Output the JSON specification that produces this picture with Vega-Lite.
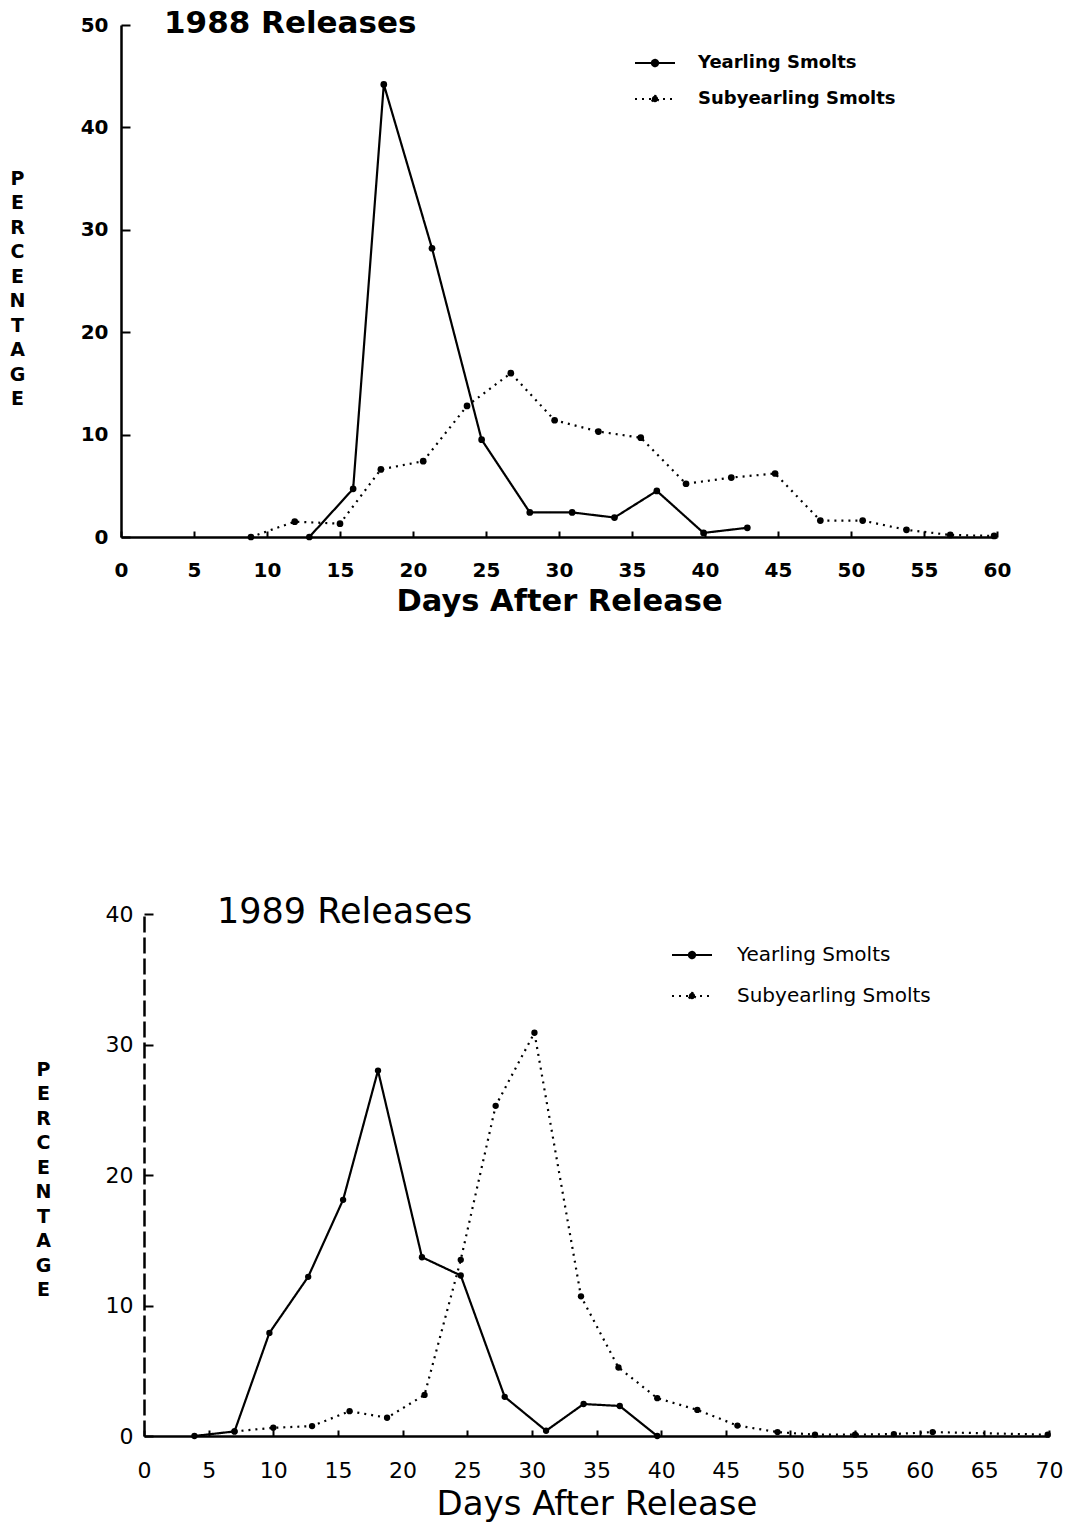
{
  "$schema": "https://vega.github.io/schema/vega-lite/v6.json",
  "background": "white",
  "padding": {"left": 9, "top": 8, "right": 5, "bottom": 5},
  "config": {
    "view": {"stroke": null},
    "axis": {
      "domainColor": "black",
      "domainWidth": 2.5,
      "tickColor": "black",
      "tickWidth": 2,
      "labelColor": "black",
      "titleColor": "black",
      "grid": false
    }
  },
  "datasets": {
    "release1988": [
      {"series": "Yearling Smolts", "day": 12.9, "pct": 0},
      {"series": "Yearling Smolts", "day": 15.9, "pct": 4.7},
      {"series": "Yearling Smolts", "day": 18.0, "pct": 44.2},
      {"series": "Yearling Smolts", "day": 21.3, "pct": 28.2},
      {"series": "Yearling Smolts", "day": 24.7, "pct": 9.5},
      {"series": "Yearling Smolts", "day": 28.0, "pct": 2.4},
      {"series": "Yearling Smolts", "day": 30.9, "pct": 2.4},
      {"series": "Yearling Smolts", "day": 33.8, "pct": 1.9},
      {"series": "Yearling Smolts", "day": 36.7, "pct": 4.5},
      {"series": "Yearling Smolts", "day": 39.9, "pct": 0.4},
      {"series": "Yearling Smolts", "day": 42.9, "pct": 0.9},
      {"series": "Subyearling Smolts", "day": 8.9, "pct": 0},
      {"series": "Subyearling Smolts", "day": 11.9, "pct": 1.5},
      {"series": "Subyearling Smolts", "day": 15.0, "pct": 1.3},
      {"series": "Subyearling Smolts", "day": 17.8, "pct": 6.6},
      {"series": "Subyearling Smolts", "day": 20.7, "pct": 7.4},
      {"series": "Subyearling Smolts", "day": 23.7, "pct": 12.8},
      {"series": "Subyearling Smolts", "day": 26.7, "pct": 16.0},
      {"series": "Subyearling Smolts", "day": 29.7, "pct": 11.4},
      {"series": "Subyearling Smolts", "day": 32.7, "pct": 10.3},
      {"series": "Subyearling Smolts", "day": 35.6, "pct": 9.7},
      {"series": "Subyearling Smolts", "day": 38.7, "pct": 5.2},
      {"series": "Subyearling Smolts", "day": 41.8, "pct": 5.8},
      {"series": "Subyearling Smolts", "day": 44.8, "pct": 6.2},
      {"series": "Subyearling Smolts", "day": 47.9, "pct": 1.6},
      {"series": "Subyearling Smolts", "day": 50.8, "pct": 1.6},
      {"series": "Subyearling Smolts", "day": 53.8, "pct": 0.7},
      {"series": "Subyearling Smolts", "day": 56.8, "pct": 0.2},
      {"series": "Subyearling Smolts", "day": 59.8, "pct": 0.1}
    ],
    "release1989": [
      {"series": "Yearling Smolts", "day": 3.9, "pct": 0},
      {"series": "Yearling Smolts", "day": 7.0, "pct": 0.35},
      {"series": "Yearling Smolts", "day": 9.7, "pct": 7.9},
      {"series": "Yearling Smolts", "day": 12.7, "pct": 12.2},
      {"series": "Yearling Smolts", "day": 15.4, "pct": 18.1},
      {"series": "Yearling Smolts", "day": 18.1, "pct": 28.0},
      {"series": "Yearling Smolts", "day": 21.5, "pct": 13.7},
      {"series": "Yearling Smolts", "day": 24.5, "pct": 12.3},
      {"series": "Yearling Smolts", "day": 27.9, "pct": 3.0},
      {"series": "Yearling Smolts", "day": 31.1, "pct": 0.4},
      {"series": "Yearling Smolts", "day": 34.0, "pct": 2.45},
      {"series": "Yearling Smolts", "day": 36.8, "pct": 2.3},
      {"series": "Yearling Smolts", "day": 39.7, "pct": 0},
      {"series": "Subyearling Smolts", "day": 7.0, "pct": 0.35},
      {"series": "Subyearling Smolts", "day": 10.0, "pct": 0.63},
      {"series": "Subyearling Smolts", "day": 13.0, "pct": 0.76},
      {"series": "Subyearling Smolts", "day": 15.9, "pct": 1.9},
      {"series": "Subyearling Smolts", "day": 18.8, "pct": 1.4},
      {"series": "Subyearling Smolts", "day": 21.7, "pct": 3.15},
      {"series": "Subyearling Smolts", "day": 24.5, "pct": 13.5},
      {"series": "Subyearling Smolts", "day": 27.2, "pct": 25.3},
      {"series": "Subyearling Smolts", "day": 30.2, "pct": 30.9},
      {"series": "Subyearling Smolts", "day": 33.8, "pct": 10.7},
      {"series": "Subyearling Smolts", "day": 36.7, "pct": 5.25},
      {"series": "Subyearling Smolts", "day": 39.7, "pct": 2.9},
      {"series": "Subyearling Smolts", "day": 42.8, "pct": 2.0},
      {"series": "Subyearling Smolts", "day": 45.9, "pct": 0.8},
      {"series": "Subyearling Smolts", "day": 49.0, "pct": 0.3},
      {"series": "Subyearling Smolts", "day": 51.9, "pct": 0.1},
      {"series": "Subyearling Smolts", "day": 55.0, "pct": 0.1},
      {"series": "Subyearling Smolts", "day": 58.0, "pct": 0.15},
      {"series": "Subyearling Smolts", "day": 61.0, "pct": 0.3},
      {"series": "Subyearling Smolts", "day": 69.9, "pct": 0.1}
    ]
  },
  "spacing": 278,
  "resolve": {
    "scale": {"x": "independent", "y": "independent", "strokeDash": "independent"},
    "legend": {"strokeDash": "independent"}
  },
  "vconcat": [
    {
      "width": 876,
      "height": 512,
      "data": {"name": "release1988"},
      "title": {
        "text": "1988 Releases",
        "anchor": "start",
        "frame": "group",
        "dx": 43,
        "offset": -25,
        "font": "DejaVu Sans",
        "fontSize": 31,
        "fontWeight": "bold",
        "color": "black"
      },
      "encoding": {
        "x": {
          "field": "day",
          "type": "quantitative",
          "scale": {"domain": [0, 60], "nice": false},
          "axis": {
            "title": "Days After Release",
            "values": [0, 5, 10, 15, 20, 25, 30, 35, 40, 45, 50, 55, 60],
            "labelFlush": false,
            "tickSize": -6,
            "labelPadding": 29,
            "labelFont": "DejaVu Sans",
            "labelFontWeight": "bold",
            "labelFontSize": 20,
            "titleFont": "DejaVu Sans",
            "titleFontWeight": "bold",
            "titleFontSize": 30.5,
            "titlePadding": 6
          }
        },
        "y": {
          "field": "pct",
          "type": "quantitative",
          "scale": {"domain": [0, 50], "nice": false},
          "axis": {
            "title": ["P", "E", "R", "C", "E", "N", "T", "A", "G", "E"],
            "titleAngle": 0,
            "titleAlign": "center",
            "titleBaseline": "middle",
            "titleLineHeight": 24.5,
            "titleFont": "DejaVu Sans",
            "titleFontWeight": "bold",
            "titleFontSize": 19,
            "titleX": -104,
            "titleY": 153,
            "values": [0, 10, 20, 30, 40, 50],
            "tickSize": -9,
            "labelPadding": 22,
            "labelFont": "DejaVu Sans",
            "labelFontWeight": "bold",
            "labelFontSize": 20
          }
        }
      },
      "layer": [
        {
          "mark": {"type": "line", "color": "black", "strokeWidth": 2.2},
          "encoding": {
            "strokeDash": {
              "field": "series",
              "type": "nominal",
              "scale": {"domain": ["Yearling Smolts", "Subyearling Smolts"], "range": [[1, 0], [2, 5]]},
              "legend": {
                "title": null,
                "orient": "none",
                "legendX": 513,
                "legendY": 17,
                "symbolType": "M-1,0L1,0M0.16,0A0.16,0.16,0,1,1,-0.16,0A0.16,0.16,0,1,1,0.16,0",
                "symbolSize": 1600,
                "symbolStrokeWidth": 2,
                "symbolStrokeColor": "black",
                "symbolFillColor": "black",
                "labelFont": "DejaVu Sans",
                "labelFontWeight": "bold",
                "labelFontSize": 18,
                "labelColor": "black",
                "labelLimit": 400,
                "labelOffset": 22,
                "rowPadding": 6
              }
            }
          }
        },
        {
          "mark": {"type": "point", "filled": true, "color": "black", "size": 45, "opacity": 1}
        }
      ]
    },
    {
      "width": 928,
      "height": 522,
      "data": {"name": "release1989"},
      "title": {
        "text": "1989 Releases",
        "anchor": "start",
        "frame": "group",
        "dx": 96,
        "offset": -27,
        "font": "DejaVu Sans",
        "fontSize": 35,
        "fontWeight": "normal",
        "color": "black"
      },
      "encoding": {
        "x": {
          "field": "day",
          "type": "quantitative",
          "scale": {"domain": [0, 70], "nice": false, "range": [23, 928]},
          "axis": {
            "title": "Days After Release",
            "values": [0, 5, 10, 15, 20, 25, 30, 35, 40, 45, 50, 55, 60, 65, 70],
            "labelFlush": false,
            "tickSize": -6,
            "labelPadding": 30,
            "labelFont": "DejaVu Sans",
            "labelFontSize": 22,
            "titleFont": "DejaVu Sans",
            "titleFontWeight": "normal",
            "titleFontSize": 34,
            "titlePadding": 6
          }
        },
        "y": {
          "field": "pct",
          "type": "quantitative",
          "scale": {"domain": [0, 40], "nice": false},
          "axis": {
            "title": ["P", "E", "R", "C", "E", "N", "T", "A", "G", "E"],
            "titleAngle": 0,
            "titleAlign": "center",
            "titleBaseline": "middle",
            "titleLineHeight": 24.5,
            "titleFont": "DejaVu Sans",
            "titleFontWeight": "bold",
            "titleFontSize": 19,
            "titleX": -101,
            "titleY": 155,
            "offset": -23,
            "values": [0, 10, 20, 30, 40],
            "domainDash": [16, 5],
            "tickSize": -9,
            "labelPadding": 20,
            "labelFont": "DejaVu Sans",
            "labelFontSize": 22
          }
        }
      },
      "layer": [
        {
          "mark": {"type": "line", "color": "black", "strokeWidth": 2.2},
          "encoding": {
            "strokeDash": {
              "field": "series",
              "type": "nominal",
              "scale": {"domain": ["Yearling Smolts", "Subyearling Smolts"], "range": [[1, 0], [2, 5]]},
              "legend": {
                "title": null,
                "orient": "none",
                "legendX": 550,
                "legendY": 20,
                "symbolType": "M-1,0L1,0M0.16,0A0.16,0.16,0,1,1,-0.16,0A0.16,0.16,0,1,1,0.16,0",
                "symbolSize": 1600,
                "symbolStrokeWidth": 2,
                "symbolStrokeColor": "black",
                "symbolFillColor": "black",
                "labelFont": "DejaVu Sans",
                "labelFontSize": 20,
                "labelColor": "black",
                "labelLimit": 400,
                "labelOffset": 24,
                "rowPadding": 10
              }
            }
          }
        },
        {
          "mark": {"type": "point", "filled": true, "color": "black", "size": 40, "opacity": 1}
        }
      ]
    }
  ]
}
